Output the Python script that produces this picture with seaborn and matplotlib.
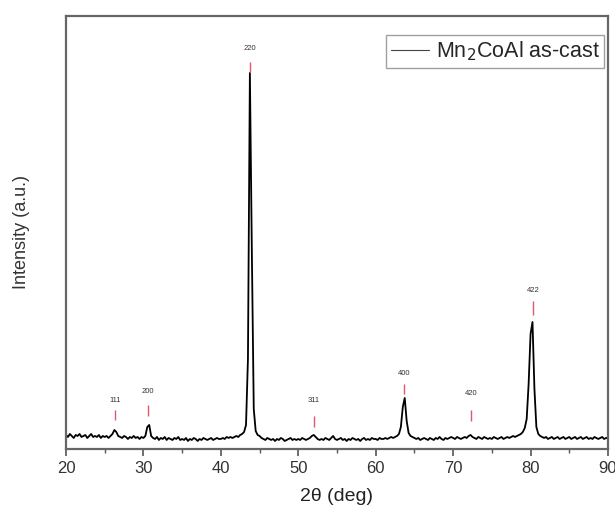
# XRD pattern of Mn2CoAl as-cast
import numpy as np
import pandas as pd
import matplotlib
matplotlib.use("Agg")
import matplotlib.pyplot as plt
import seaborn as sns

sns.set_style("white")
plt.rcParams['font.family'] = ['Liberation Sans', 'DejaVu Sans']

# ---- data (0.25 deg steps from 20 to 90) ----
two_theta = np.arange(20.0, 90.001, 0.25)
intensity = (
    [14, 12, 15, 13, 11, 14, 13, 15, 12, 13, 14, 11, 13, 15, 12, 13, 12, 14, 11, 13]      # 20-25
    + [12, 13, 11, 13, 15, 19, 17, 13, 12, 11, 13, 12, 10, 12, 11, 13, 11, 12, 10, 12]    # 25-30
    + [11, 13, 22, 24, 13, 11, 10, 12, 9, 11, 10, 12, 9, 11, 10, 9, 11, 10, 12, 9]        # 30-35
    + [10, 9, 11, 8, 10, 9, 11, 10, 8, 10, 9, 11, 10, 9, 10, 11, 9, 10, 11, 10]           # 35-40
    + [10, 11, 10, 12, 11, 12, 11, 12, 13, 12, 14, 15, 17, 24, 90, 376, 200, 40, 18, 14]  # 40-45
    + [13, 11, 10, 9, 11, 10, 9, 10, 8, 10, 9, 11, 10, 8, 9, 10, 11, 9, 10, 9]            # 45-50
    + [10, 9, 11, 10, 9, 10, 11, 13, 14, 12, 10, 9, 10, 9, 11, 10, 9, 11, 13, 10]         # 50-55
    + [9, 10, 11, 9, 10, 8, 10, 9, 11, 10, 9, 10, 8, 10, 11, 9, 10, 9, 11, 10]            # 55-60
    + [10, 9, 11, 10, 10, 11, 10, 11, 12, 11, 12, 13, 15, 22, 42, 51, 28, 16, 13, 12]     # 60-65
    + [11, 10, 11, 9, 10, 11, 10, 9, 11, 10, 9, 11, 10, 12, 10, 9, 11, 10, 11, 12]        # 65-70
    + [11, 10, 12, 11, 10, 11, 12, 11, 13, 14, 12, 11, 10, 12, 11, 10, 12, 11, 10, 11]    # 70-75
    + [10, 12, 11, 10, 11, 12, 10, 11, 12, 11, 12, 13, 12, 13, 14, 15, 17, 21, 30, 65]    # 75-80
    + [115, 127, 60, 22, 15, 13, 12, 11, 12, 10, 11, 12, 10, 11, 12, 10, 11, 12, 10, 11]  # 80-85
    + [12, 10, 11, 12, 10, 11, 12, 10, 11, 12, 10, 11, 10, 12, 11, 10, 11, 12, 10, 11]    # 85-90
    + [11]
)

# hkl reflections
hkl_labels = ['111', '200', '220', '311', '400', '420', '422']
hkl_pos = [26.3, 30.6, 43.8, 52.0, 63.7, 72.3, 80.3]
mark_low = [29, 33, 377, 22, 55, 28, 134]
mark_high = [39, 44, 387, 33, 65, 39, 148]
label_y = [48, 57, 400, 48, 75, 55, 158]

df = pd.DataFrame({'two_theta': two_theta, 'intensity': intensity})

fig = plt.figure(figsize=(6.15, 5.15), dpi=100)
ax = fig.add_axes([0.1073, 0.1282, 0.8813, 0.8408])

sns.lineplot(data=df, x='two_theta', y='intensity', color='black', linewidth=1.3,
             ax=ax, label=r'Mn$_2$CoAl as-cast')

# red markers + hkl labels
ax.vlines(hkl_pos, mark_low, mark_high, colors='#e8556a', linewidth=1.0)
for lab, xp, yp in zip(hkl_labels, hkl_pos, label_y):
    ax.text(xp, yp, lab, ha='center', va='center', fontsize=5.5, color='#333333')

ax.set_xlim(20, 90)
ax.set_ylim(0, 433)
ax.set_xticks(range(20, 91, 10))
ax.set_xticks(range(25, 90, 10), minor=True)
ax.set_yticks([])
ax.tick_params(axis='x', which='major', direction='out', length=5, width=1.2,
               colors='#555555', labelsize=12, labelcolor='#333333', bottom=True, pad=4)
ax.tick_params(axis='x', which='minor', direction='out', length=3, width=1.0,
               colors='#555555', bottom=True)
for sp in ax.spines.values():
    sp.set_color('#666666')
    sp.set_linewidth(1.6)

ax.set_xlabel('2θ (deg)', fontsize=14, color='#222222', labelpad=8)
ax.set_ylabel('Intensity (a.u.)', fontsize=13, color='#333333', labelpad=26)

leg = ax.legend(loc='upper right', fontsize=15.5, frameon=True, fancybox=False,
                edgecolor='#888888', handlelength=1.8, handletextpad=0.3,
                borderpad=0.2, borderaxespad=0.0,
                bbox_to_anchor=(0.993, 0.955))
leg.get_frame().set_linewidth(1.0)
for h in leg.get_lines():
    h.set_linewidth(0.8)
    h.set_color('#444444')

fig.savefig('out.png', dpi=100)
